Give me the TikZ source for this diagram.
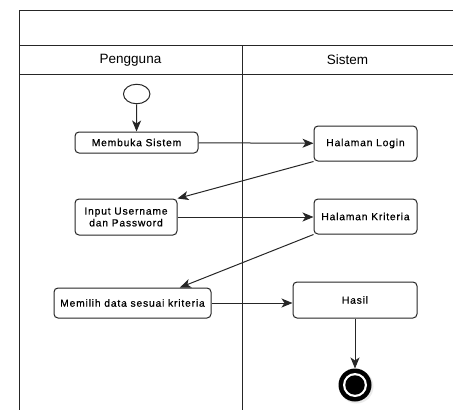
\documentclass[tikz,border=0pt]{standalone}
\usepackage{fontspec}
\setmainfont{Liberation Sans}
\usetikzlibrary{arrows.meta,calc,shapes.geometric}

\begin{document}
\begin{tikzpicture}[x=1pt,y=-1pt,
  lane/.style={draw=black!85,line width=0.9pt},
  act/.style={draw=black!85,line width=1pt,rounded corners=4pt,fill=white,
    inner sep=0pt,align=center,
    font=\fontsize{10.3}{11.8}\selectfont\addfontfeature{LetterSpace=8,FakeBold=0.6}},
  head/.style={font=\fontsize{13.5}{15}\selectfont},
  flow/.style={draw=black!85,line width=1pt,
    -{Stealth[length=11pt,width=9pt,inset=3pt]}}]

\useasboundingbox (0,0) rectangle (453,410);

% swimlane frame
\draw[lane] (19,410) -- (19,10) -- (453,10);
\draw[lane] (19,45) -- (453,45);
\draw[lane] (19,74) -- (453,74);
\draw[lane] (242,45) -- (242,410);

\node[head] (hp) at (130.5,60) {Pengguna};
\node[head] (hs) at (347.5,60) {Sistem};

% start state
\node[draw=black!85,line width=1pt,ellipse,minimum width=26.5pt,minimum height=19.5pt,inner sep=0pt]
  (start) at (136.7,94) {};

% activities
\node[act,minimum width=123pt,minimum height=21pt] (buka) at (136.5,142.5) {Membuka Sistem};
\node[act,minimum width=103pt,minimum height=35pt] (login) at (365.5,143.5) {Halaman Login};
\node[act,minimum width=102pt,minimum height=36pt] (input) at (126,217)
  {Input Username\\dan Password};
\node[act,minimum width=103pt,minimum height=35pt] (krit) at (365.5,216.5) {Halaman Kriteria};
\node[act,minimum width=157pt,minimum height=30pt] (pilih) at (132.5,303)
  {Memilih data sesuai kriteria};
\node[act,minimum width=124pt,minimum height=36pt] (hasil) at (355,300) {Hasil};

% final state
\fill[black!8] (356.5,386.5) circle (17pt);
\fill[black] (355,385) circle (16.5pt);
\fill[white] (355,385) circle (12pt);
\node[circle,fill=black,minimum size=19.5pt,inner sep=0pt] (end) at (355,385) {};
\coordinate (endtop) at (355,368.5);

% control flow
\draw[flow] (start) -- (buka);
\draw[flow] (buka) -- (login);
\draw[flow] (login.south west) -- (input.north east);
\draw[flow] (input) -- (krit.west |- input);
\draw[flow] (krit.south west) -- ($(pilih.north west)!0.8!(pilih.north east)$);
\draw[flow] (pilih) -- (hasil.west |- pilih);
\draw[flow] (hasil) -- (endtop);
\end{tikzpicture}
\end{document}
